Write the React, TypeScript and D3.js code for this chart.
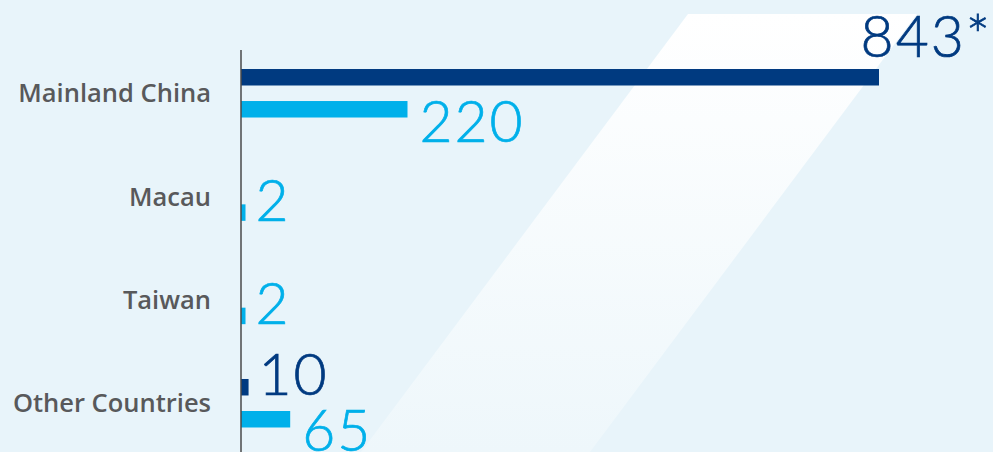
import React from "react";
import * as d3 from "d3";

const categories = ["Mainland China", "Macau", "Taiwan", "Other Countries"];
const seriesKeys = ["dark", "light"];
const darkValues: (number | null)[] = [843, null, null, 10];
const lightValues: (number | null)[] = [220, 2, 2, 65];
const darkMarks = ["*", "", "", ""];
const lightMarks = ["", "", "", ""];

const W = 993;
const H = 452;
const COLORS: Record<string, string> = { dark: "#003a80", light: "#00b0ea" };
const BG = "#e8f4fa";
const LABEL_FONT = "'Open Sans', sans-serif";
const VALUE_FONT = "Lato, 'Open Sans', sans-serif";

export default function App() {
  const x = d3.scaleLinear().domain([0, 843]).range([241, 879]);
  const y = d3.scaleBand<string>().domain(categories).range([41.6, 454.9]).padding(0);
  const inner = d3
    .scaleBand<string>()
    .domain(seriesKeys)
    .range([-24.25, 24.25])
    .paddingInner(0.485)
    .paddingOuter(0);

  const rows = categories.flatMap((c, i) => [
    { cat: c, key: "dark", value: darkValues[i], mark: darkMarks[i] },
    { cat: c, key: "light", value: lightValues[i], mark: lightMarks[i] },
  ]);
  const maxVal = d3.max(rows, (r) => r.value ?? 0) ?? 0;

  return (
    <div style={{ position: "fixed", left: 0, top: 0, width: W, height: H }}>
      <svg width={W} height={H} style={{ display: "block" }}>
        <defs>
          <linearGradient id="slash" x1="0" y1="0" x2="0" y2="1">
            <stop offset="0" stopColor="#ffffff" />
            <stop offset="1" stopColor="#eef7fb" />
          </linearGradient>
        </defs>
        <rect x={0} y={0} width={W} height={H} fill={BG} />
        <path d="M688,14 L917,14 L590,452 L361,452 Z" fill="url(#slash)" />

        {rows
          .filter((r) => r.value != null)
          .map((r, i) => {
            const c = (y(r.cat) ?? 0) + y.bandwidth() / 2;
            const top = c + (inner(r.key) ?? 0);
            const h = inner.bandwidth();
            const w = Math.max(x(r.value as number) - x(0), 4.5);
            const end = x(0) + w;
            const text = `${r.value}${r.mark}`;
            let tx = end + 10;
            let ty = top + h;
            let anchor: "start" | "end" = "start";
            if (r.value === maxVal) {
              tx = W - 1;
              ty = top - 12;
              anchor = "end";
            } else if (r.key === "light" && (r.value as number) > 10) {
              tx = end + 12;
              ty = top + h + 24;
            }
            return (
              <g key={i}>
                <rect x={x(0)} y={top} width={w} height={h} fill={COLORS[r.key]} />
                <text
                  x={tx}
                  y={ty}
                  textAnchor={anchor}
                  fill={COLORS[r.key]}
                  stroke={COLORS[r.key]}
                  strokeWidth={0.7}
                  fontFamily={VALUE_FONT}
                  fontWeight={300}
                  fontSize={57}
                  letterSpacing={2}
                >
                  {text}
                </text>
              </g>
            );
          })}

        <line x1={x(0)} x2={x(0)} y1={50} y2={H} stroke="#4a4a4a" strokeWidth={1.5} />

        {categories.map((c) => (
          <text
            key={c}
            x={211}
            y={(y(c) ?? 0) + y.bandwidth() / 2}
            dy="0.36em"
            textAnchor="end"
            fill="#58595b"
            fontFamily={LABEL_FONT}
            fontWeight={600}
            fontSize={25.5}
          >
            {c}
          </text>
        ))}
      </svg>
    </div>
  );
}
